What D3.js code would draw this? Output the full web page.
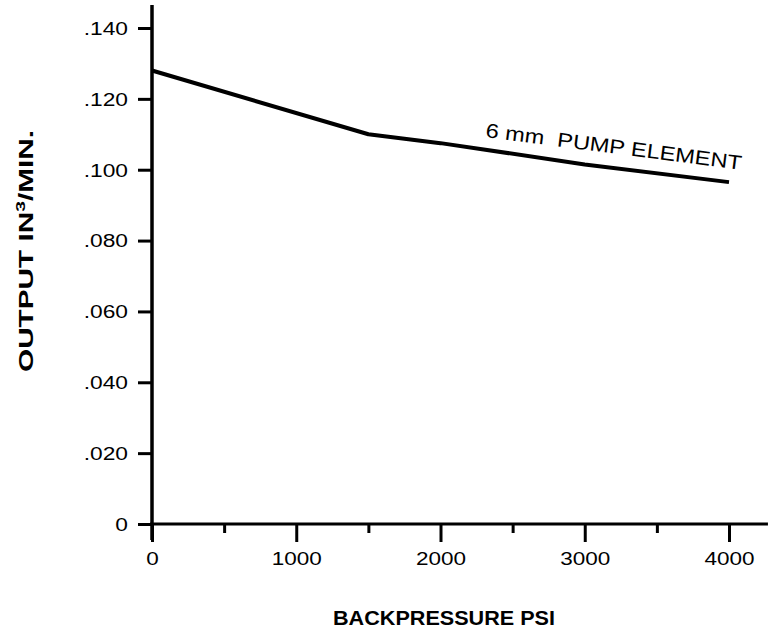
<!DOCTYPE html>
<html>
<head>
<meta charset="utf-8">
<script src="https://cdn.jsdelivr.net/npm/d3@7"></script>
<style>
  html, body { margin: 0; padding: 0; background: #fff; }
  svg { display: block; }
  text { font-family: "Liberation Sans", Arial, Helvetica, sans-serif; fill: #000; }
</style>
</head>
<body>
<svg id="chart" width="770" height="633"></svg>
<script>
// ---- data ----
const pressure = [0, 1500, 2000, 3000, 4000];
const output   = [0.128, 0.110, 0.1075, 0.1015, 0.0965];
const xMajorTicks = [0, 1000, 2000, 3000, 4000];
const xMinorTicks = [500, 1500, 2500, 3500];
const yTicks = [0, 0.02, 0.04, 0.06, 0.08, 0.10, 0.12, 0.14];
const xTitle = "BACKPRESSURE PSI";
const seriesLabel = "6 mm  PUMP ELEMENT";

// ---- layout ----
const svg = d3.select("#chart");
const x = d3.scaleLinear().domain([0, 4000]).range([152, 729]);
const y = d3.scaleLinear().domain([0, 0.14]).range([524, 28]);
const xAxisEnd = 4270;      // axis line continues past last tick
const yAxisTop = 0.1465;    // axis line continues above last tick

function widen(sel, f) {
  sel.each(function () {
    const w = this.getComputedTextLength();
    d3.select(this).attr("textLength", w * f).attr("lengthAdjust", "spacingAndGlyphs");
  });
}

// y axis ticks + labels
const yAxis = d3.axisLeft(y)
  .tickValues(yTicks)
  .tickSize(14)
  .tickPadding(10)
  .tickFormat(d => d === 0 ? "0" : d3.format(".3f")(d).replace(/^0/, ""));
const gy = svg.append("g").attr("transform", `translate(${x(0)},0)`).call(yAxis);
gy.select(".domain").remove();
gy.selectAll(".tick line").attr("stroke", "#000").attr("stroke-width", 3);
gy.selectAll(".tick text").attr("font-size", 17.5).attr("fill", "#000").attr("dy", "0.36em");
widen(gy.selectAll(".tick text"), 1.3);

// x axis major ticks
const xAxis = d3.axisBottom(x)
  .tickValues(xMajorTicks)
  .tickSize(18)
  .tickPadding(10)
  .tickFormat(d3.format("d"));
const gx = svg.append("g").attr("transform", `translate(0,${y(0)})`).call(xAxis);
gx.select(".domain").remove();
gx.selectAll(".tick line").attr("stroke", "#000").attr("stroke-width", 3);
gx.selectAll(".tick text").attr("font-size", 18).attr("fill", "#000");
widen(gx.selectAll(".tick text"), 1.25);

// x axis minor ticks
const gxm = svg.append("g").attr("transform", `translate(0,${y(0)})`)
  .call(d3.axisBottom(x).tickValues(xMinorTicks).tickSize(9).tickFormat(""));
gxm.select(".domain").remove();
gxm.selectAll(".tick line").attr("stroke", "#000").attr("stroke-width", 3);

// axis lines
svg.append("line")
  .attr("x1", x(0)).attr("x2", x(0))
  .attr("y1", y(yAxisTop)).attr("y2", y(0) + 16)
  .attr("stroke", "#000").attr("stroke-width", 3.5);
svg.append("line")
  .attr("x1", x(0) - 2).attr("x2", x(xAxisEnd))
  .attr("y1", y(0)).attr("y2", y(0))
  .attr("stroke", "#000").attr("stroke-width", 3);

// series line
const pts = pressure.map((p, i) => [p, output[i]]);
svg.append("path")
  .datum(pts)
  .attr("fill", "none")
  .attr("stroke", "#000")
  .attr("stroke-width", 4)
  .attr("stroke-linejoin", "round")
  .attr("d", d3.line().x(d => x(d[0])).y(d => y(d[1])));

// series label (rotated along the line)
svg.append("text")
  .attr("transform", `translate(485,137) rotate(7.3)`)
  .attr("font-size", 20)
  .attr("textLength", 258)
  .attr("lengthAdjust", "spacingAndGlyphs")
  .style("white-space", "pre")
  .text(seriesLabel);

// x title
svg.append("text")
  .attr("x", 333).attr("y", 625)
  .attr("font-size", 19.5)
  .attr("font-weight", "bold")
  .attr("textLength", 222)
  .attr("lengthAdjust", "spacingAndGlyphs")
  .text(xTitle);

// y title (rotated)
const yt = svg.append("text")
  .attr("transform", "translate(33,372) rotate(-90)")
  .attr("font-size", 20)
  .attr("font-weight", "bold")
  .attr("textLength", 242)
  .attr("lengthAdjust", "spacingAndGlyphs");
yt.append("tspan").text("OUTPUT IN");
yt.append("tspan").attr("font-size", 13).attr("dy", -8).text("3");
yt.append("tspan").attr("dy", 8).text("/MIN.");
</script>
</body>
</html>
